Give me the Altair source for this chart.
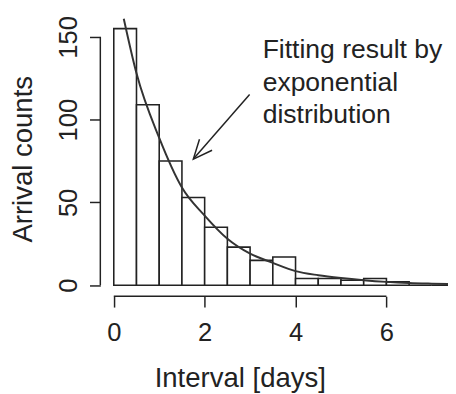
import altair as alt
import pandas as pd

# ---- data ----
bin_start = [0.0, 0.5, 1.0, 1.5, 2.0, 2.5, 3.0, 3.5, 4.0, 4.5, 5.0, 5.5, 6.0, 6.5, 7.0]
bin_end = [0.5, 1.0, 1.5, 2.0, 2.5, 3.0, 3.5, 4.0, 4.5, 5.0, 5.5, 6.0, 6.5, 7.0, 7.5]
counts = [155, 109, 75, 53, 35, 23, 15, 17, 4, 4, 3, 4, 2, 0, 0]

fit_x = [0.22, 0.5, 1.0, 1.5, 2.0, 2.5, 3.0, 3.5, 4.0, 4.5, 5.0, 5.5, 6.0, 6.5, 7.0, 7.5]
fit_y = [161, 128, 89, 59, 42, 28, 19, 13.5, 8.5, 6, 4.3, 3, 2, 1.3, 0.9, 0.6]

x_ticks = [0, 2, 4, 6]
y_ticks = [0, 50, 100, 150]
x_title = "Interval [days]"
y_title = "Arrival counts"

ann_lines = ["Fitting result by", "exponential", "distribution"]
ann_x = [3.276, 3.276, 3.276]
ann_y = [137.5, 117.2, 97.9]

arrow_from = [2.989, 115.2]
arrow_to = [1.751, 76.2]

# ---- styling ----
FONT = "Liberation Sans"
INK = "#222222"
W, H = 354, 288

xs = alt.Scale(domain=[-0.296, 7.355], nice=False, zero=False)
ys = alt.Scale(domain=[-6.7, 164.2], nice=False, zero=False)

xaxis = alt.Axis(values=x_ticks, title=x_title, domain=False, grid=False,
                 tickSize=11, tickWidth=1.5, tickColor=INK,
                 labelFont=FONT, labelFontSize=26, labelColor=INK,
                 labelPadding=34, labelBaseline="alphabetic", labelAlign="center",
                 labelAngle=0, labelFlush=False, labelOverlap=False,
                 titleFont=FONT, titleFontSize=28, titleFontWeight="normal",
                 titleColor=INK, titleX=142, titleY=92, titleAlign="center",
                 titleBaseline="alphabetic", titleAngle=0)
yaxis = alt.Axis(values=y_ticks, title=y_title, domain=False, grid=False,
                 tickSize=11, tickWidth=1.5, tickColor=INK,
                 labelFont=FONT, labelFontSize=26, labelColor=INK,
                 labelPadding=13, labelBaseline="alphabetic", labelAlign="center",
                 labelAngle=270, labelFlush=False, labelOverlap=False,
                 titleFont=FONT, titleFontSize=28, titleFontWeight="normal",
                 titleColor=INK, titleX=-70, titleY=148, titleAlign="center",
                 titleBaseline="alphabetic", titleAngle=270)


def X(f):
    return alt.X(f, type="quantitative", scale=xs, axis=xaxis)


def Y(f):
    return alt.Y(f, type="quantitative", scale=ys, axis=yaxis)


bars_df = pd.DataFrame({"x": bin_start, "x2": bin_end, "y": counts})
bars_df["y0"] = 0
bars = alt.Chart(bars_df).mark_rect(fill="white", stroke=INK, strokeWidth=1.6, clip=True).encode(
    x=X("x"), x2="x2", y=Y("y"), y2="y0")

fit_df = pd.DataFrame({"x": fit_x, "y": fit_y})
curve = alt.Chart(fit_df).mark_line(color="#333333", strokeWidth=2, interpolate="monotone", clip=True).encode(
    x=X("x"), y=Y("y"))

xline_df = pd.DataFrame({"x": [x_ticks[0]], "x2": [x_ticks[-1]]})
xline = alt.Chart(xline_df).mark_rule(color=INK, strokeWidth=1.5).encode(
    x=X("x"), x2="x2", y=alt.value(H))

yline_df = pd.DataFrame({"y": [y_ticks[0]], "y2": [y_ticks[-1]]})
yline = alt.Chart(yline_df).mark_rule(color=INK, strokeWidth=1.5).encode(
    y=Y("y"), y2="y2", x=alt.value(0))

arrow_df = pd.DataFrame({"x": [arrow_from[0]], "y": [arrow_from[1]],
                         "x2": [arrow_to[0]], "y2": [arrow_to[1]]})
arrow = alt.Chart(arrow_df).mark_rule(color=INK, strokeWidth=1.5).encode(
    x=X("x"), y=Y("y"), x2="x2", y2="y2")

head_df = pd.DataFrame({"x": [arrow_to[0]], "y": [arrow_to[1]]})
head = alt.Chart(head_df).mark_point(shape="M -1 -0.44 L 0 0 L -1 0.44", filled=False,
                                     size=1490, angle=131, color=INK, strokeWidth=1.5,
                                     opacity=1).encode(x=X("x"), y=Y("y"))

ann_df = pd.DataFrame({"x": ann_x, "y": ann_y, "t": ann_lines})
ann = alt.Chart(ann_df).mark_text(align="left", baseline="alphabetic", font=FONT,
                                  fontSize=27, color=INK).encode(
    x=X("x"), y=Y("y"), text="t:N")

chart = alt.layer(bars, curve, xline, yline, arrow, head, ann).properties(
    width=W, height=H,
    autosize=alt.AutoSizeParams(type="none"),
    padding={"left": 94, "top": 2, "right": 0, "bottom": 96},
    background="white",
).configure_view(stroke=None)

chart.save("out.html", embed_options={"renderer": "svg", "actions": False})
